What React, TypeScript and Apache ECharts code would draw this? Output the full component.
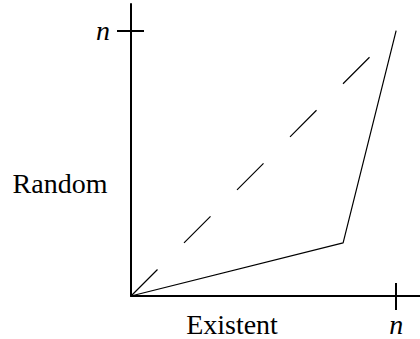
import React, { useEffect, useRef } from "react";
import * as echarts from "echarts";

const solidX = [0, 0.8, 1];
const solidY = [0, 0.2, 1];
const dashedX = [0, 0.9];
const dashedY = [0, 0.9];
const tickValues = [1];
const tickLabel = "n";
const xTitle = "Existent";
const yTitle = "Random";

const FONT = "Liberation Serif";

export default function App() {
  const ref = useRef<HTMLDivElement>(null);
  useEffect(() => {
    if (!ref.current) return;
    const chart = echarts.init(ref.current, null, { renderer: "svg" });
    const axisLine = { show: true, lineStyle: { color: "#000", width: 2 } };
    const tickStyle = { color: "#000", width: 2 };
    chart.setOption({
      animation: false,
      backgroundColor: "#fff",
      grid: { left: 131, right: 0, top: 4, bottom: 43, containLabel: false },
      xAxis: [
        {
          type: "value", min: 0, max: 1.09, axisLine,
          splitLine: { show: false },
          axisTick: { show: true, customValues: tickValues, length: 14, lineStyle: tickStyle },
          axisLabel: {
            show: true, customValues: tickValues, formatter: () => tickLabel, margin: 14,
            fontFamily: FONT, fontStyle: "italic", fontSize: 28, color: "#000",
          },
        },
        {
          type: "value", min: 0, max: 1.09, position: "bottom",
          axisLine: { show: false }, splitLine: { show: false },
          axisTick: { show: true, inside: true, customValues: tickValues, length: 13, lineStyle: tickStyle },
          axisLabel: { show: false },
        },
      ],
      yAxis: [
        {
          type: "value", min: 0, max: 1.1, axisLine,
          splitLine: { show: false },
          axisTick: { show: true, customValues: tickValues, length: 14, lineStyle: tickStyle },
          axisLabel: {
            show: true, customValues: tickValues, formatter: () => tickLabel, margin: 21,
            fontFamily: FONT, fontStyle: "italic", fontSize: 28, color: "#000",
          },
        },
        {
          type: "value", min: 0, max: 1.1, position: "left",
          axisLine: { show: false }, splitLine: { show: false },
          axisTick: { show: true, inside: true, customValues: tickValues, length: 13, lineStyle: tickStyle },
          axisLabel: { show: false },
        },
      ],
      graphic: [
        {
          type: "text", x: 60, y: 183,
          style: { text: yTitle, fontFamily: FONT, fontSize: 28, fill: "#000", align: "center", verticalAlign: "middle" },
        },
        {
          type: "text", x: 232, y: 324,
          style: { text: xTitle, fontFamily: FONT, fontSize: 28, fill: "#000", align: "center", verticalAlign: "middle" },
        },
      ],
      series: [
        {
          type: "line", data: solidX.map((x, i) => [x, solidY[i]]),
          showSymbol: false, symbol: "none",
          lineStyle: { color: "#000", width: 1.2 }, z: 3,
        },
        {
          type: "line", data: dashedX.map((x, i) => [x, dashedY[i]]),
          showSymbol: false, symbol: "none",
          lineStyle: { color: "#000", width: 1.2, type: [37.5, 37.5] }, z: 3,
        },
      ],
    });
    return () => chart.dispose();
  }, []);
  return <div ref={ref} style={{ position: "fixed", left: 0, top: 0, width: 420, height: 339 }} />;
}
